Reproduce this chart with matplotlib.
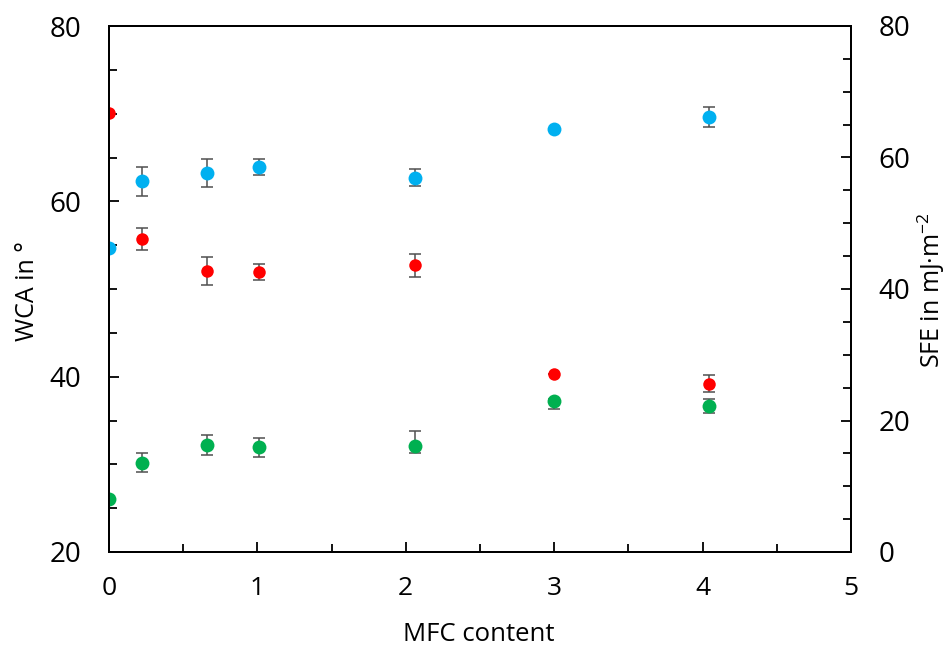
import matplotlib
matplotlib.use("Agg")
import matplotlib.pyplot as plt
from matplotlib.ticker import MultipleLocator

plt.rcParams['font.family'] = ['Open Sans', 'DejaVu Sans']
plt.rcParams['mathtext.fontset'] = 'custom'
plt.rcParams['mathtext.rm'] = 'Open Sans'
plt.rcParams['mathtext.it'] = 'Open Sans'

# MFC content (x)
mfc = [0.0, 0.22, 0.66, 1.01, 2.06, 3.0, 4.04]

# Water contact angle (left axis, degrees)
wca = [70.1, 55.7, 52.1, 51.9, 52.7, 40.3, 39.2]
wca_err_lo = [0.0, 1.3, 1.6, 0.9, 1.3, 0.0, 1.0]
wca_err_hi = [0.0, 1.3, 1.6, 0.9, 1.3, 0.0, 1.0]

# Surface free energy series (right axis, mJ/m^2)
sfe_blue = [46.3, 56.4, 57.6, 58.6, 56.9, 64.3, 66.2]
sfe_blue_err_lo = [0.0, 2.2, 2.1, 1.2, 1.3, 0.0, 1.5]
sfe_blue_err_hi = [0.0, 2.2, 2.1, 1.2, 1.3, 0.0, 1.5]

sfe_green = [8.0, 13.6, 16.3, 15.9, 16.1, 23.0, 22.2]
sfe_green_err_lo = [0.0, 1.4, 1.5, 1.4, 1.0, 1.2, 1.1]
sfe_green_err_hi = [0.0, 1.4, 1.5, 1.4, 2.3, 0.3, 1.1]

W, H = 946, 646
fig = plt.figure(figsize=(W / 100, H / 100), dpi=100)
ax = fig.add_axes([109 / W, (H - 552) / H, 742 / W, 526 / H])
ax2 = ax.twinx()

ebkw = dict(fmt='o', ecolor='#505050', elinewidth=1.1, capsize=4, capthick=1.1,
            linestyle='none')


def draw(a, y, lo, hi, color, ms):
    cont = a.errorbar(mfc, y, yerr=[lo, hi], color=color, markersize=ms, **ebkw)
    cont.lines[0].set_markeredgewidth(0)
    return cont


draw(ax, wca, wca_err_lo, wca_err_hi, '#ff0000', 9)
draw(ax2, sfe_blue, sfe_blue_err_lo, sfe_blue_err_hi, '#00b0f0', 10)
draw(ax2, sfe_green, sfe_green_err_lo, sfe_green_err_hi, '#00b050', 10)

ax.set_xlim(0, 5)
ax.set_ylim(20, 80)
ax2.set_ylim(0, 80)

ax.xaxis.set_major_locator(MultipleLocator(1))
ax.xaxis.set_minor_locator(MultipleLocator(0.5))
ax.yaxis.set_major_locator(MultipleLocator(20))
ax.yaxis.set_minor_locator(MultipleLocator(5))
ax2.yaxis.set_major_locator(MultipleLocator(20))
ax2.yaxis.set_minor_locator(MultipleLocator(5))

for a in (ax, ax2):
    for s in a.spines.values():
        s.set_linewidth(1.4)
        s.set_color('black')

ax.tick_params(axis='x', which='both', direction='in', top=False, width=1.3, pad=17,
               labelsize=19)
ax.tick_params(axis='x', which='major', length=7)
ax.tick_params(axis='x', which='minor', length=6)
ax.tick_params(axis='y', which='both', direction='in', right=False, width=1.3, pad=20,
               labelsize=20)
ax.tick_params(axis='y', which='major', length=7)
ax.tick_params(axis='y', which='minor', length=6)
ax2.tick_params(axis='y', which='both', direction='in', width=1.3, pad=20, labelsize=20)
ax2.tick_params(axis='y', which='major', length=7)
ax2.tick_params(axis='y', which='minor', length=6)

fig.text(479 / W, 1 - 641 / H, 'MFC content', fontsize=18.5, ha='center', va='baseline')
fig.text(27 / W, 1 - 291 / H, 'WCA in °', fontsize=18, rotation=90,
         ha='center', va='center')
fig.text(931 / W, 1 - 290 / H, 'SFE in mJ·m$^{\\mathregular{-2}}$', fontsize=18,
         rotation=90, ha='center', va='center')

fig.savefig('out.png', dpi=100)
